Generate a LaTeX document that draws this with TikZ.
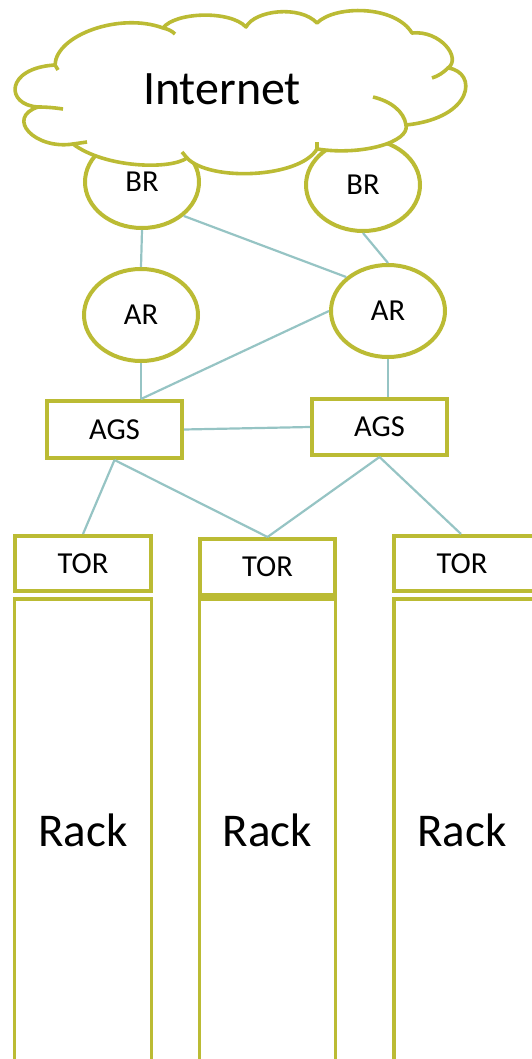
\documentclass[tikz,border=0pt]{standalone}
\usepackage{fontspec}
\setmainfont{Carlito}
\usetikzlibrary{shapes.geometric}
\definecolor{olv}{RGB}{187,187,52}
\definecolor{lnk}{RGB}{150,196,196}
\begin{document}
\begin{tikzpicture}[x=1pt,y=-1pt,
  outl/.style={draw=olv, line width=4pt, fill=white},
  lbl/.style={font=\fontsize{30.5}{36}\selectfont},
  router/.style={outl, lbl, ellipse, inner sep=0pt, minimum width=114pt, minimum height=92pt},
  swbox/.style={outl, lbl, rectangle, inner sep=0pt, minimum width=135pt, minimum height=56pt},
  rackbox/.style={draw=olv, line width=3.2pt, fill=white, rectangle, inner sep=0pt, minimum width=137pt, minimum height=462pt, font=\fontsize{47}{56}\selectfont},
  cloudline/.style={draw=olv, line width=3.6pt, line join=round},
  tailline/.style={draw=olv, line width=3.6pt},
  link/.style={draw=lnk, line width=2.2pt}]
\useasboundingbox (0,0) rectangle (531,1059);
% border routers (behind cloud)
\node[router] (brl) at (142,182) {BR};
\node[router] (brr) at (363,185) {BR};
% cloud
\path[cloudline, fill=white] (55,65) .. controls (56,35) and (120,12) .. (163,28)
 .. controls (175,12) and (230,10) .. (246,27)
 .. controls (255,10) and (300,5) .. (317,23)
 .. controls (335,5) and (395,5) .. (412,33)
 .. controls (440,30) and (462,58) .. (448,68)
 .. controls (478,72) and (474,118) .. (406,125)
 .. controls (410,142) and (362,156) .. (317,149)
 .. controls (300,178) and (210,182) .. (187,158)
 .. controls (170,170) and (105,168) .. (73,144)
 .. controls (35,150) and (5,118) .. (38,107)
 .. controls (5,105) and (5,68) .. (55,65) -- cycle;
\draw[tailline] (163,28) .. controls (168,29) and (172,31) .. (175,34);
\draw[tailline] (448,68) .. controls (443,73) and (438,76) .. (432,78);
\draw[tailline] (373,97) .. controls (390,101) and (404,111) .. (406,125);
\draw[tailline] (317,149) -- (317,142);
\draw[tailline] (187,158) -- (182,152);
\draw[tailline] (73,144) -- (87,142);
\draw[tailline] (38,107) .. controls (48,107) and (56,108) .. (63,109);
\draw[tailline] (55,65) -- (58,70);
\node[font=\fontsize{48}{58}\selectfont] (inet) at (222,89) {Internet};
% access routers
\node[router] (arl) at (141,315) {AR};
\node[router] (arr) at (388,311) {AR};
% aggregation switches
\node[swbox, minimum height=57pt] (agl) at (114.5,429.5) {AGS};
\node[swbox] (agr) at (379.5,427) {AGS};
% top of rack switches
\node[swbox, minimum width=136pt, minimum height=55pt] (tor1) at (83,563.5) {TOR};
\node[swbox] (tor2) at (267.5,567) {TOR};
\node[swbox, minimum width=150pt, minimum height=55pt] (tor3) at (469,563.5) {\hspace*{-14pt}TOR};
% racks
\node[rackbox] (rk1) at (83,830) {Rack};
\node[rackbox, minimum width=136pt] (rk2) at (267.5,830) {Rack};
\node[rackbox, minimum width=150pt] (rk3) at (469,830) {\hspace*{-14pt}Rack};
% links
\coordinate (agtop) at (arl.south |- agl.north);
\coordinate (agrtop) at (arr.south |- agr.north);
\draw[link] (brl.south) -- (arl.north);
\draw[link] (brl.south east) -- (arr.north west);
\draw[link] (brr.south) -- (arr.north);
\draw[link] (arl.south) -- (agtop);
\draw[link] (arr.west) -- (agtop);
\draw[link] (arr.south) -- (agrtop);
\draw[link] (agl.east) -- (agr.west);
\draw[link] (agl.south) -- (tor1.north);
\draw[link] (agl.south) -- (tor2.north);
\draw[link] (agr.south) -- (tor2.north);
\draw[link] (agr.south) -- ([xshift=-8pt]tor3.north);
\end{tikzpicture}
\end{document}
